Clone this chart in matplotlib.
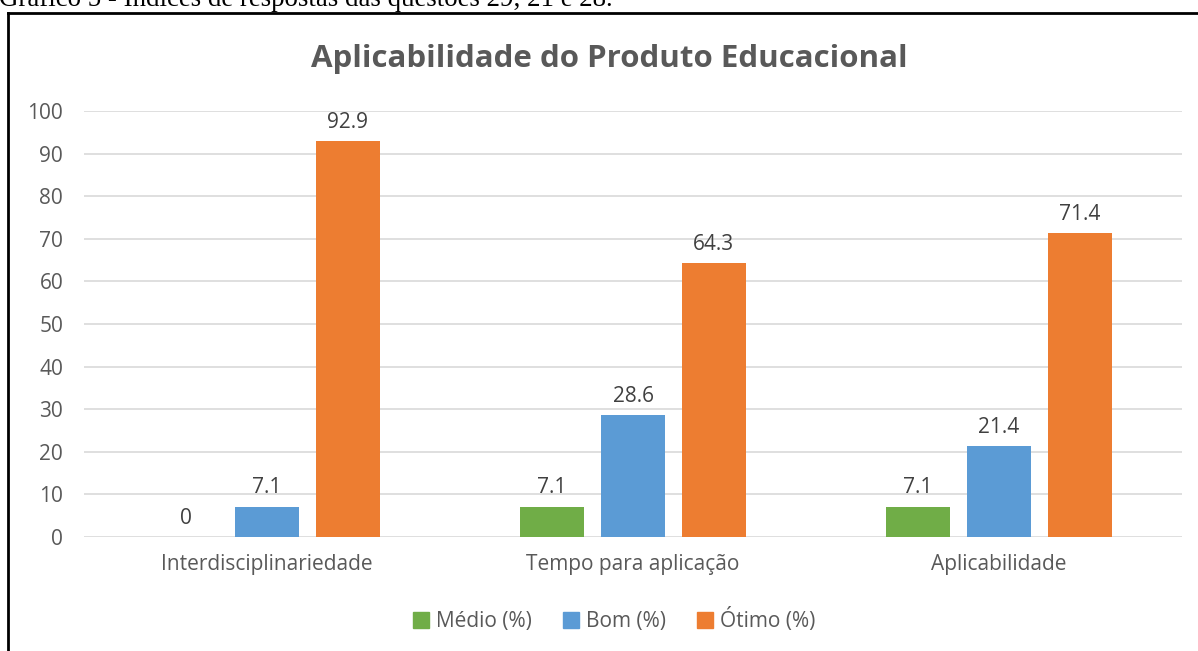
import matplotlib.pyplot as plt
import numpy as np
from matplotlib.lines import Line2D

categories = ['Interdisciplinariedade', 'Tempo para aplicação', 'Aplicabilidade']
series_names = ['Médio (%)', 'Bom (%)', 'Ótimo (%)']
medio = [0, 7.1, 7.1]
bom = [7.1, 28.6, 21.4]
otimo = [92.9, 64.3, 71.4]
yticks = [0, 10, 20, 30, 40, 50, 60, 70, 80, 90, 100]

colors = ['#70ad47', '#5b9bd5', '#ed7d31']
W, H = 1198, 651

plt.rcParams['font.family'] = ['Open Sans', 'DejaVu Sans']

fig = plt.figure(figsize=(W / 100, H / 100), dpi=100)
fig.patch.set_facecolor('white')

# plot area in pixels: x 84..1182, y 111 (=100) .. 537 (=0)
left, right, top, bottom = 84, 1182, 111, 537
ax = fig.add_axes([left / W, 1 - bottom / H, (right - left) / W, (bottom - top) / H])
ax.set_xlim(-0.5, 2.5)
ax.set_ylim(0, 100)

x = np.arange(len(categories))
width = 0.175
offset = 0.221
fs = 15
for i, (vals, name) in enumerate(zip([medio, bom, otimo], series_names)):
    xs = x + (i - 1) * offset
    ax.bar(xs, vals, width, color=colors[i], label=name, zorder=3)
    for xv, v in zip(xs, vals):
        lab = '%g' % v
        ax.annotate(lab, (xv, v), xytext=(0, 6), textcoords='offset points',
                    ha='center', va='bottom', fontsize=fs, color='#404040')

ax.set_yticks(yticks)
ax.set_xticks(x)
ax.set_xticklabels(categories)
ax.tick_params(axis='both', length=0, labelsize=fs, labelcolor='#595959')
ax.tick_params(axis='y', pad=15)
ax.tick_params(axis='x', pad=12)
ax.yaxis.grid(True, color='#d9d9d9', linewidth=1.2, zorder=0)
for s in ax.spines.values():
    s.set_visible(False)
ax.set_axisbelow(True)

fig.text(609 / W, 1 - 59 / H, 'Aplicabilidade do Produto Educacional', ha='center', va='center',
         fontsize=22.5, fontweight='bold', color='#595959')

handles = [Line2D([], [], marker='s', linestyle='none', markersize=12, color=c) for c in colors]
fig.legend(handles, series_names, loc='center', bbox_to_anchor=(614 / W, 1 - 620 / H),
           ncol=3, frameon=False, fontsize=fs, handlelength=0.8, handletextpad=0.3,
           columnspacing=1.5, labelcolor='#595959')

# caption (partly cut at top) and the chart frame
fig.text(-1 / W, 1 - 6 / H, 'Gráfico 5 - Índices de respostas das questões 29, 21 e 28.',
         family='Liberation Serif', fontsize=19.4, ha='left', va='baseline', color='black')
fig.add_artist(Line2D([8 / W, 1], [1 - 13 / H, 1 - 13 / H], color='black', linewidth=2))
fig.add_artist(Line2D([8 / W, 8 / W], [0, 1 - 13 / H], color='black', linewidth=2))

fig.savefig('out.png', dpi=100)
